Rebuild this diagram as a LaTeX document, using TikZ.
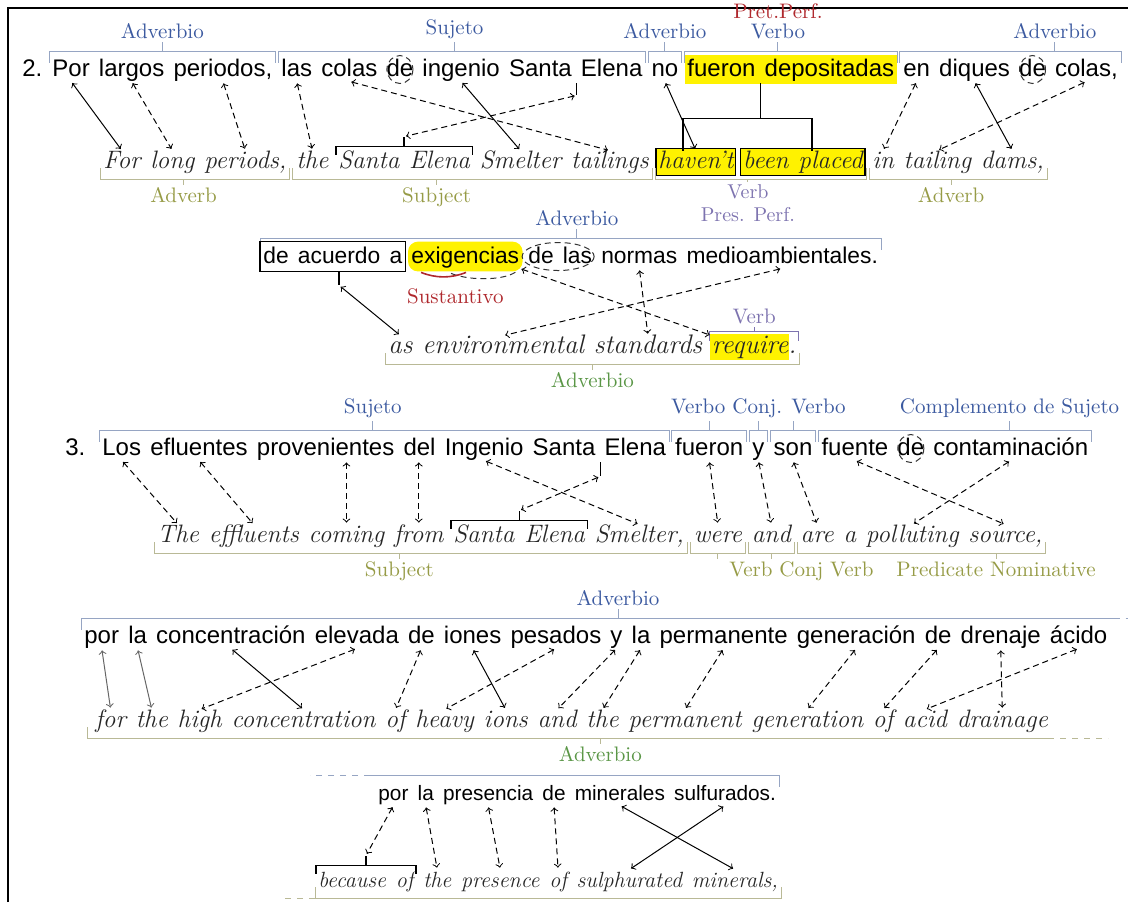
\documentclass[tikz,border=0pt]{standalone}
\usepackage{fontspec}
\newfontfamily\essf{Liberation Sans}
\usetikzlibrary{arrows,positioning,backgrounds}

\definecolor{sblue}{RGB}{60,90,160}
\definecolor{sline}{RGB}{150,165,195}
\definecolor{egreen}{RGB}{150,155,70}
\definecolor{eline}{RGB}{185,185,150}
\definecolor{ggreen}{RGB}{90,150,70}
\definecolor{sred}{RGB}{175,40,45}
\definecolor{vpurple}{RGB}{125,115,175}

% a row of words, one node for each word: prefix, style, start, words
\newcommand\wordrow[4]{%
  \foreach \w [count=\i] in {#4}{%
    \pgfmathtruncatemacro\j{\i-1}%
    \ifnum\i=1 \node[#2, anchor=base west] (#11) at (#3) {\w};%
    \else \node[#2, base right=of #1\j] (#1\i) {\w};\fi}}

\begin{document}
\begin{tikzpicture}
[x=0.5pt, y=-0.5pt, >=to, font=\fontsize{10.5}{10}\selectfont,
% STYLES
% The es style is used for the spanish words
es/.style={inner sep=0pt, text height=9pt, text depth=2.5pt, node distance=4.2pt, font=\essf\fontsize{#1}{14}\selectfont},
es/.default=12,
% The en style is used for the english words
en/.style={inner sep=0pt, text height=8.5pt, text depth=2.5pt, node distance=4.5pt, text=black!85, font=\itshape\fontsize{#1}{14}\selectfont},
en/.default=12.6,
% thin brackets and the names of the parts
sbr/.style={draw=sline, line width=0.5pt},
ebr/.style={draw=eline, line width=0.5pt},
slab/.style={text=sblue, inner sep=1pt, align=center},
elab/.style={text=egreen, inner sep=1pt, align=center},
% black brackets that join words
tree/.style={draw=black, line width=0.7pt},
arr/.style={<->, line width=0.5pt, shorten <=1pt, shorten >=1pt},
darr/.style={arr, densely dashed},
circ/.style={draw=black!80, densely dashed, line width=0.5pt}]

\useasboundingbox (0,0) rectangle (1128,902);
\draw[line width=1.2pt] (8,902) -- (8,8) -- (1128,8);

% Draw words
\node[es, anchor=base west] (num2) at (22,76) {2.};
\wordrow{p}{es}{52,76}{Por,largos,{periodos,},las,colas,de,ingenio,Santa,Elena,no,fueron,depositadas,en,diques,de,{colas,}}
\wordrow{q}{en}{103,168}{For,long,{periods,},the,Santa,Elena,Smelter,tailings,haven't,been,placed,in,tailing,{dams,}}
\wordrow{r}{es=11.4}{263,263}{de,acuerdo,a,exigencias,de,las,normas,medioambientales.}
\wordrow{s}{en=13.4}{388,353}{as,environmental,standards,require.}
\node[es, anchor=base west] (num3) at (65,455) {3.};
\wordrow{t}{es}{102,455}{Los,efluentes,provenientes,del,Ingenio,Santa,Elena,fueron,y,son,fuente,de,contaminación}
\wordrow{u}{en}{157,542}{The,effluents,coming,from,Santa,Elena,{Smelter,},were,and,are,a,polluting,{source,}}
\wordrow{v}{es}{84,643}{por,la,concentración,elevada,de,iones,pesados,y,la,permanente,generación,de,drenaje,ácido}
\wordrow{w}{en}{95,727}{for,the,high,concentration,of,heavy,ions,and,the,permanent,generation,of,acid,drainage}
\wordrow{m}{es=10.4}{378,800}{por,la,presencia,de,minerales,sulfurados.}
\wordrow{n}{en=11}{318,887}{because,of,the,presence,of,sulphurated,{minerals,}}

% highlights
\begin{scope}[on background layer]
\fill[yellow] ([shift={(-2,-3)}]p11.north west) rectangle ([shift={(2,3)}]p12.south east);
\filldraw[fill=yellow, draw=black, line width=0.6pt] ([shift={(-2,-2)}]q9.north west) rectangle ([shift={(2,2)}]q9.south east);
\filldraw[fill=yellow, draw=black, line width=0.6pt] ([shift={(-2,-2)}]q10.north west) rectangle ([shift={(2,2)}]q11.south east);
\fill[yellow, rounded corners=5pt] ([shift={(-3,-3)}]r4.north west) rectangle ([shift={(3,3)}]r4.south east);
\fill[yellow] ([shift={(-2,-2)}]s4.north west) rectangle ([shift={(-8,2)}]s4.south east);
\end{scope}

%%%%%%%%%%%%%%%
% Names of the parts

% sentence 2, spanish
\draw[sbr] ([shift={(-3,5)}]p1.north west) |- ([shift={(3,-6)}]p3.north east) coordinate[pos=.75] (b1) -- ++(0,11);
\draw[sbr] (b1) -- ++(0,-10) node[slab, anchor=south] (l1) {Adverbio};
\draw[sbr] ([shift={(-3,5)}]p4.north west) |- ([shift={(3,-6)}]p9.north east) coordinate[pos=.74] (b2) -- ++(0,11);
\draw[sbr] (b2) -- ++(0,-10) node[slab, anchor=south] (l2) {Sujeto};
\draw[sbr] ([shift={(-3,5)}]p10.north west) |- ([shift={(3,-6)}]p10.north east) coordinate[pos=.75] (b3) -- ++(0,11);
\draw[sbr] (b3) -- ++(0,-10) node[slab, anchor=south] (l3) {Adverbio};
\draw[sbr] ([shift={(-3,5)}]p11.north west) |- ([shift={(3,-6)}]p12.north east) coordinate[pos=.72] (b4) -- ++(0,11);
\draw[sbr] (b4) -- ++(0,-10) node[slab, anchor=south] (l4) {{\color{sred}Pret.Perf.}\\Verbo};
\draw[sbr] ([shift={(-3,5)}]p13.north west) |- ([shift={(3,-6)}]p16.north east) coordinate[pos=.85] (b5) -- ++(0,11);
\draw[sbr] (b5) -- ++(0,-10) node[slab, anchor=south] (l5) {Adverbio};

% sentence 2, english
\draw[ebr] ([shift={(-3,-5)}]q1.south west) |- ([shift={(3,6)}]q3.south east) coordinate[pos=.72] (c1) -- ++(0,-11);
\draw[ebr] (c1) -- ++(0,6) node[elab, anchor=north] (g1) {Adverb};
\draw[ebr] ([shift={(-3,-5)}]q4.south west) |- ([shift={(3,6)}]q8.south east) coordinate[pos=.70] (c2) -- ++(0,-11);
\draw[ebr] (c2) -- ++(0,6) node[elab, anchor=north] (g2) {Subject};
\draw[ebr] ([shift={(-3,-5)}]q9.south west) |- ([shift={(3,6)}]q11.south east) coordinate[pos=.72] (c3) -- ++(0,-11);
\draw[ebr] (c3) -- ++(0,3) node[elab, text=vpurple, anchor=north, font=\fontsize{10}{11.5}\selectfont] (g3) {Verb\\Pres. Perf.};
\draw[ebr] ([shift={(-3,-5)}]q12.south west) |- ([shift={(3,6)}]q14.south east) coordinate[pos=.73] (c4) -- ++(0,-11);
\draw[ebr] (c4) -- ++(0,6) node[elab, anchor=north] (g4) {Adverb};

% second line of sentence 2
\draw[sbr] ([shift={(-3,5)}]r1.north west) |- ([shift={(3,-6)}]r8.north east) coordinate[pos=.755] (b6) -- ++(0,11);
\draw[sbr] (b6) -- ++(0,-10) node[slab, anchor=south] (l6) {Adverbio};
\draw[draw=vpurple, line width=0.5pt] ([shift={(-2,5)}]s4.north west) |- ([shift={(2,-4)}]s4.north east) coordinate[pos=.75] (b7) -- ++(0,9);
\draw[draw=vpurple, line width=0.5pt] (b7) -- ++(0,-5) node[slab, text=vpurple, anchor=south] (l7) {Verb};
\node[slab, text=sred, below=9pt of r4, xshift=-5pt] (l8) {Sustantivo};
\draw[ebr] ([shift={(-3,-5)}]s1.south west) |- ([shift={(3,6)}]s4.south east) coordinate[pos=.75] (c5) -- ++(0,-11);
\draw[ebr] (c5) -- ++(0,6) node[elab, text=ggreen, anchor=north] (g5) {Adverbio};

% sentence 3
\draw[sbr] ([shift={(-3,5)}]t1.north west) |- ([shift={(3,-6)}]t7.north east) coordinate[pos=.74] (b8) -- ++(0,11);
\draw[sbr] (b8) -- ++(0,-10) node[slab, anchor=south] (l9) {Sujeto};
\draw[sbr] ([shift={(-3,5)}]t8.north west) |- ([shift={(3,-6)}]t8.north east) coordinate[pos=.75] (b9) -- ++(0,11);
\draw[sbr] ([shift={(-3,5)}]t9.north west) |- ([shift={(3,-6)}]t9.north east) coordinate[pos=.75] (b10) -- ++(0,11);
\draw[sbr] ([shift={(-3,5)}]t10.north west) |- ([shift={(3,-6)}]t10.north east) coordinate[pos=.75] (b11) -- ++(0,11);
\draw[sbr] (b10) -- ++(0,-10) node[slab, anchor=south] (l10) {Verbo Conj. Verbo};
\draw[sbr] (b9) -- (b9 |- l10.south);
\draw[sbr] (b11) -- (b11 |- l10.south);
\draw[sbr] ([shift={(-3,5)}]t11.north west) |- ([shift={(3,-6)}]t13.north east) coordinate[pos=.85] (b12) -- ++(0,11);
\draw[sbr] (b12) -- ++(0,-10) node[slab, anchor=south] (l11) {Complemento de Sujeto};

\draw[ebr] ([shift={(-3,-5)}]u1.south west) |- ([shift={(3,6)}]u7.south east) coordinate[pos=.73] (c6) -- ++(0,-11);
\draw[ebr] (c6) -- ++(0,6) node[elab, anchor=north] (g6) {Subject};
\draw[ebr] ([shift={(-3,-5)}]u8.south west) |- ([shift={(3,6)}]u8.south east) coordinate[pos=.75] (c7) -- ++(0,-11);
\draw[ebr] ([shift={(-3,-5)}]u9.south west) |- ([shift={(3,6)}]u9.south east) coordinate[pos=.75] (c8) -- ++(0,-11);
\draw[ebr] (c8) -- ++(0,6) node[elab, anchor=north, xshift=15pt] (g7) {Verb Conj Verb};
\draw[ebr] (c7) -- (c7 |- g7.north);
\draw[ebr] ([shift={(-3,-5)}]u10.south west) |- ([shift={(3,6)}]u13.south east) coordinate[pos=.9] (c9) -- ++(0,-11);
\draw[ebr] (c9) -- ++(0,6) node[elab, anchor=north] (g8) {Predicate Nominative};

% the rest of sentence 3
\draw[sbr] ([shift={(-3,5)}]v1.north west) |- ([shift={(6,-6)}]v14.north east) coordinate[pos=.76] (b13);
\draw[sbr, dashed] ([shift={(6,-6)}]v14.north east) -- ++(28,0);
\draw[sbr] (b13) -- ++(0,-10) node[slab, anchor=south] (l12) {Adverbio};
\draw[ebr] ([shift={(-8,-5)}]w1.south west) |- ([shift={(0,6)}]w14.south east) coordinate[pos=.767] (c10);
\draw[ebr, dashed] ([shift={(0,6)}]w14.south east) -- ++(60,0);
\draw[ebr] (c10) -- ++(0,6) node[elab, text=ggreen, anchor=north] (g9) {Adverbio};
\draw[sbr] ([shift={(-8,-6)}]m1.north west) -| ([shift={(3,5)}]m6.north east);
\draw[sbr, dashed] ([shift={(-8,-6)}]m1.north west) -- ++(-60,0);
\draw[ebr] ([shift={(-3,-5)}]n1.south west) |- ([shift={(3,6)}]n7.south east) -- ++(0,-11);
\draw[ebr, dashed] ([shift={(-3,6)}]n1.south west) -- ++(-35,0);

%%%%%%%%%%%%%%%
% Black brackets and circles

% de acuerdo a
\draw[tree] ([shift={(-3,-3)}]r1.north west) rectangle ([shift={(3,3)}]r3.south east);
\draw[tree] ([shift={(0,3)}]r2.south) -- ++(0,14) coordinate (k1);
% Santa Elena
\draw[tree] ([shift={(-4,2)}]p9.south west) -- ++(0,12) coordinate (k2);
\draw[tree] ([shift={(-2,4)}]q5.north west) |- ([shift={(2,-4)}]q6.north east) coordinate[pos=.75] (k3a) -- ++(0,8);
\draw[tree] (k3a) -- ++(0,-10) coordinate (k3);
% fueron depositadas
\draw[tree] ([shift={(-4,2)}]p12.south west) -- ++(0,35) coordinate (k4);
\draw[tree] ([shift={(25,0)}]q9.north west) |- (k4) -| ([shift={(14,0)}]q11.north west);
% Santa Elena, sentence 3
\draw[tree] ([shift={(-4,2)}]t7.south west) -- ++(0,14) coordinate (k5);
\draw[tree] ([shift={(-2,4)}]u5.north west) |- ([shift={(2,-4)}]u6.north east) coordinate[pos=.75] (k6a) -- ++(0,8);
\draw[tree] (k6a) -- ++(0,-10) coordinate (k6);
% because of
\draw[tree] ([shift={(-2,4)}]n1.north west) |- ([shift={(2,-4)}]n2.north east) coordinate[pos=.75] (k7a) -- ++(0,8);
\draw[tree] (k7a) -- ++(0,-10) coordinate (k7);

\draw[circ] (p6) ellipse (13 and 14);
\draw[circ] (p15) ellipse (13 and 14);
\draw[circ] (t12) ellipse (13 and 14);
\draw[circ] ([shift={(4,0)}]r5.east) ellipse (36 and 14);
\draw[circ] ([shift={(40,5)}]r4.south west) .. controls +(20,8) and +(-10,10) .. ([shift={(-2,2)}]r4.south east);
\draw[draw=sred, line width=0.8pt] ([shift={(10,4)}]r4.south west) .. controls +(15,6) and +(-15,6) .. ([shift={(55,4)}]r4.south west);

%%%%%%%%%%%%%%%
% Draw the links between words

% sentence 2
\draw[arr] (p1.south) -- (q1.north);
\draw[darr] (p2.south) -- (q2.north);
\draw[darr] (p3.south) -- (q3.north);
\draw[darr] (p4.south) -- (q4.north);
\draw[darr] (p5.south) -- (q8.north);
\draw[darr] (k2) -- (k3);
\draw[arr] (p7.south) -- (q7.north);
\draw[arr] (p10.south) -- (q9.north);
\draw[darr] (p13.south) -- (q12.north);
\draw[arr] (p14.south) -- (q14.north);
\draw[darr] (p16.south) -- (q13.north);
\draw[arr] (k1) -- (s1.north);
\draw[darr] (r4.south east) -- (s4.north west);
\draw[darr] (r7.south) -- (s3.north);
\draw[darr] (r8.south) -- (s2.north);

% sentence 3
\draw[darr] (t1.south) -- (u1.north);
\draw[darr] (t2.south) -- (u2.north);
\draw[darr] (t3.south -| u3.north) -- (u3.north);
\draw[darr] (t4.south -| u4.north) -- (u4.north);
\draw[darr] (t5.south) -- (u7.north);
\draw[darr] (k5) -- (k6);
\draw[darr] (t8.south) -- (u8.north);
\draw[darr] (t9.south) -- (u9.north);
\draw[darr] (t10.south) -- (u10.north);
\draw[darr] (t11.south) -- (u13.north);
\draw[darr] (t13.south) -- (u12.north);

\draw[arr, black!60] (v1.south) -- (w1.north);
\draw[arr, black!60] (v2.south) -- (w2.north);
\draw[arr] (v3.south) -- (w4.north);
\draw[darr] (v4.south) -- (w3.north);
\draw[darr] (v5.south) -- (w5.north);
\draw[arr] (v6.south) -- (w7.north);
\draw[darr] (v7.south) -- (w6.north);
\draw[darr] (v8.south) -- (w8.north);
\draw[darr] (v9.south) -- (w9.north);
\draw[darr] (v10.south) -- (w10.north);
\draw[darr] (v11.south) -- (w11.north);
\draw[darr] (v12.south) -- (w12.north);
\draw[darr] (v13.south) -- (w14.north);
\draw[darr] (v14.south) -- (w13.north);

\draw[darr] (m1.south) -- (k7);
\draw[darr] (m2.south) -- (n3.north);
\draw[darr] (m3.south) -- (n4.north);
\draw[darr] (m4.south) -- (n5.north);
\draw[arr] (m5.south) -- (n7.north);
\draw[arr] (m6.south) -- (n6.north);

\end{tikzpicture}
\end{document}
